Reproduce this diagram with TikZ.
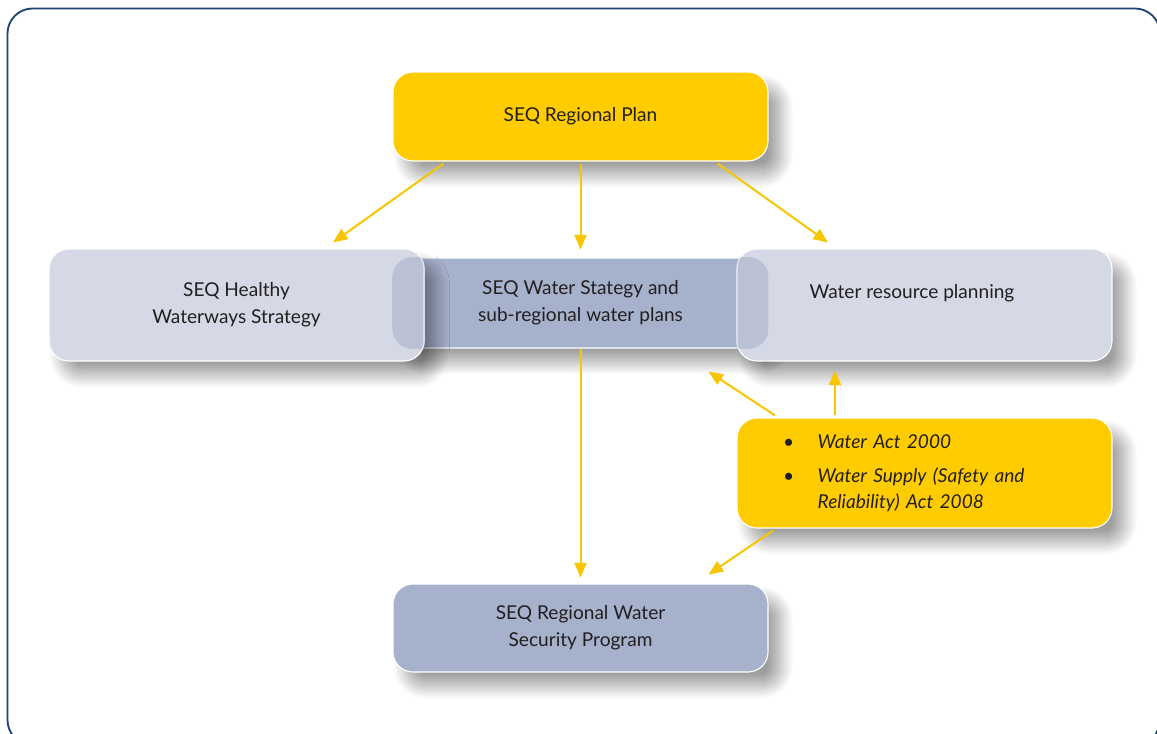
\documentclass[tikz,border=0pt]{standalone}
\usepackage{fontspec}
\setmainfont{Lato}
\usetikzlibrary{arrows.meta,calc,shadows.blur}

\definecolor{seqyellow}{HTML}{FFCC00}
\definecolor{seqarrow}{HTML}{F7C600}
\definecolor{seqpale}{HTML}{D5D9E5}
\definecolor{seqveil}{HTML}{C3C9DA}
\definecolor{seqblue}{HTML}{A6B1CC}
\definecolor{seqframe}{HTML}{1D4371}
\definecolor{seqtext}{HTML}{231F20}

\tikzset{
  box/.style={rounded corners=11pt, draw=white, line width=0.6pt, text=seqtext,
    align=center, minimum width=206.25pt, font=\fontsize{10.5}{14.8}\selectfont,
    blur shadow={shadow xshift=7pt, shadow yshift=-8pt,
      shadow blur radius=7pt, shadow blur steps=20, shadow opacity=38}},
  yellowbox/.style={box, fill=seqyellow},
  sidebox/.style={box, fill=seqpale, minimum height=61.6pt},
  bluebox/.style={box, fill=seqblue},
  veil/.style={fill=seqveil, fill opacity=0.7, draw=white, draw opacity=0.7,
    line width=1.2pt, rounded corners=11pt},
  link/.style={draw=seqarrow, line width=1.1pt, -{Triangle[length=8pt,width=6.6pt]}},
}

\begin{document}
\begin{tikzpicture}[x=0.55pt,y=-0.55pt]
  \useasboundingbox (0,0) rectangle (1157,733);
  \clip (0,0) rectangle (1157,733);

  % Frame
  \draw[seqframe, line width=1pt, rounded corners=13.75pt] (7.5,8.5) rectangle (1160,745);

  % Middle box
  \node[bluebox, minimum height=49.5pt] (wss) at (580.5,303) {SEQ Water Stategy and\\sub-regional water plans};

  % Side boxes
  \node[sidebox] (hww) at (236.5,305) {SEQ Healthy\\Waterways Strategy};
  \node[sidebox] (wrp) at (924.5,305) {Water resource planning\hspace*{13.75pt}\\~};

  % Middle box seen through the side boxes
  \begin{scope}
    \clip[rounded corners=11pt] (wss.south west) rectangle (wss.north east);
    \clip[rounded corners=11pt] (hww.south west) rectangle (hww.north east)
      (wrp.south west) rectangle (wrp.north east);
    \fill[seqblue] (wss.south west) rectangle (wss.north east);
    \filldraw[veil] (hww.south west) rectangle (hww.north east)
      (wrp.south west) rectangle (wrp.north east);
  \end{scope}

  % Plans and acts
  \node[yellowbox, minimum height=48.95pt] (plan) at (580.5,116.5) {SEQ Regional Plan};
  \node[yellowbox, minimum height=60.5pt, text width=155.65pt, inner xsep=25.3pt, align=left,
    font=\fontsize{10.5}{14.3}\selectfont] (acts) at (924.5,473)
    {\begin{tabular}{@{}l@{\hspace{13pt}}l@{}}
      \textbullet & \textit{Water Act 2000}\\[4.4pt]
      \textbullet & \textit{Water Supply (Safety and}\\
                  & \textit{Reliability) Act 2008}
    \end{tabular}};
  \node[bluebox, minimum height=48.4pt] (rwsp) at (580.5,628) {SEQ Regional Water\\Security Program};

  % Arrows
  \draw[link] ($(plan.south)+(-137,2)$) -- ($(hww.north)+(96.5,-6)$);
  \draw[link] ($(plan.south)+(0,2)$) -- ($(wss.north)+(0,-8)$);
  \draw[link] ($(plan.south)+(137,2)$) -- ($(wrp.north)+(-96.5,-6)$);
  \draw[link] (wss.south) -- ($(rwsp.north)+(0,-6)$);
  \draw[link] ($(acts.north)+(-149.5,-2)$) -- ($(wss.south east)+(-60,23)$);
  \draw[link] ($(acts.north)+(-89.5,-2)$) -- ($(wrp.south)+(-89.5,9)$);
  \draw[link] ($(acts.south)+(-151.5,2)$) -- ($(rwsp.north east)+(-60,-9)$);

\end{tikzpicture}
\end{document}
